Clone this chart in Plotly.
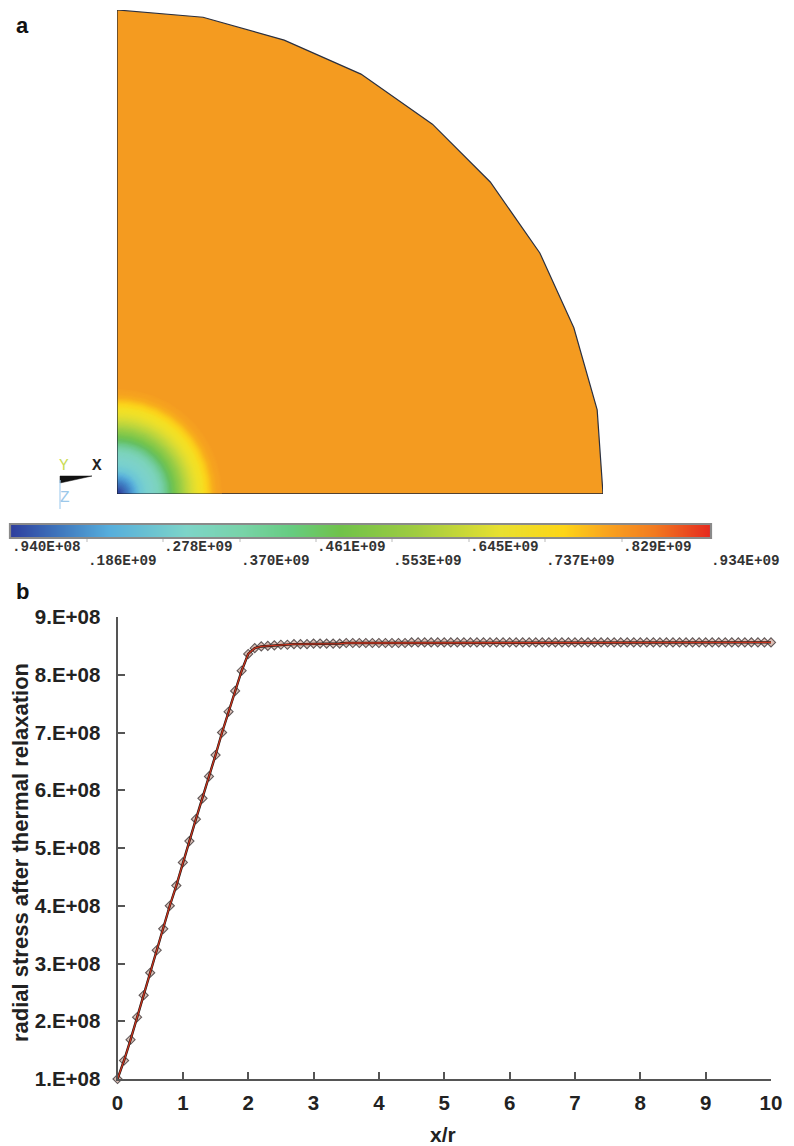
import numpy as np
import plotly.graph_objects as go

W, H = 794, 1146

# Panel a: model outline (x, y, radius = 10 units)
outline_x = [0.00, 1.77, 3.44, 5.02, 6.49, 7.68, 8.70, 9.40, 9.88, 10.0, 0.00]
outline_y = [9.96, 9.81, 9.34, 8.64, 7.61, 6.42, 4.96, 3.42, 1.73, 0.00, 0.00]

# Panel a: stress colour seen at each radius around the hole, outermost first
ring_radii = [2.16, 2.06, 1.98, 1.91, 1.85, 1.77, 1.69, 1.60, 1.52, 1.44, 1.36, 1.28,
              1.19, 1.11, 1.03, 0.95, 0.86, 0.74, 0.62, 0.49, 0.41, 0.33, 0.25, 0.16, 0.08]
ring_colors = ["#F59E20", "#F6A41F", "#F8B01C", "#FAC61A", "#FBD41B", "#F5DF22", "#EFE028",
               "#E2DE30", "#CFDA38", "#BAD53D", "#A2CF44", "#8CCA48", "#74C44E", "#66C063",
               "#6CC98A", "#76CFA8", "#7CD3BC", "#7DD2C8", "#78D0CE", "#6CC6D6", "#5CB4DA",
               "#4C9BD2", "#3F7FC3", "#3A63B2", "#2E46A0"]

# Colour bar
bar_levels = [0.0, 0.07, 0.14, 0.25, 0.33, 0.40, 0.47, 0.58, 0.70, 0.79, 0.85, 0.92, 1.0]
bar_colors = ["#2E3F9E", "#3F78BE", "#56AEDC", "#7DD4C8", "#78D3A8", "#66CC80", "#70C24A",
              "#A0CC40", "#E8E030", "#FDD516", "#F9A51E", "#F27A20", "#E5291F"]
bar_labels = [".940E+08", ".186E+09", ".278E+09", ".370E+09", ".461E+09",
              ".553E+09", ".645E+09", ".737E+09", ".829E+09", ".934E+09"]

# Panel b
x_over_r = [0.0, 0.1, 0.2, 0.3, 0.4, 0.5, 0.6, 0.7, 0.8, 0.9, 1.0, 1.1, 1.2, 1.3, 1.4, 1.5, 1.6,
            1.7, 1.8, 1.9, 2.0, 2.1, 2.2, 2.3, 2.4, 2.5, 2.6, 2.7, 2.8, 2.9, 3.0, 3.1, 3.2, 3.3,
            3.4, 3.5, 3.6, 3.7, 3.8, 3.9, 4.0, 4.1, 4.2, 4.3, 4.4, 4.5, 4.6, 4.7, 4.8, 4.9, 5.0,
            5.1, 5.2, 5.3, 5.4, 5.5, 5.6, 5.7, 5.8, 5.9, 6.0, 6.1, 6.2, 6.3, 6.4, 6.5, 6.6, 6.7,
            6.8, 6.9, 7.0, 7.1, 7.2, 7.3, 7.4, 7.5, 7.6, 7.7, 7.8, 7.9, 8.0, 8.1, 8.2, 8.3, 8.4,
            8.5, 8.6, 8.7, 8.8, 8.9, 9.0, 9.1, 9.2, 9.3, 9.4, 9.5, 9.6, 9.7, 9.8, 9.9, 10.0]
radial_stress = [1.00e8, 1.32e8, 1.68e8, 2.07e8, 2.45e8, 2.84e8, 3.23e8, 3.60e8, 4.00e8, 4.35e8,
                 4.75e8, 5.12e8, 5.50e8, 5.86e8, 6.24e8, 6.61e8, 7.00e8, 7.36e8, 7.72e8, 8.07e8,
                 8.36e8, 8.46e8, 8.49e8, 8.50e8, 8.51e8, 8.52e8, 8.52e8, 8.53e8, 8.53e8, 8.53e8,
                 8.54e8, 8.54e8, 8.54e8, 8.54e8, 8.54e8, 8.55e8, 8.55e8, 8.55e8, 8.55e8, 8.55e8,
                 8.55e8, 8.55e8, 8.55e8, 8.55e8, 8.55e8, 8.56e8, 8.56e8, 8.56e8, 8.56e8, 8.56e8,
                 8.56e8, 8.56e8, 8.56e8, 8.56e8, 8.56e8, 8.56e8, 8.56e8, 8.56e8, 8.56e8, 8.56e8,
                 8.56e8, 8.56e8, 8.56e8, 8.56e8, 8.56e8, 8.56e8, 8.56e8, 8.56e8, 8.56e8, 8.56e8,
                 8.56e8, 8.56e8, 8.56e8, 8.56e8, 8.56e8, 8.56e8, 8.56e8, 8.56e8, 8.56e8, 8.56e8,
                 8.56e8, 8.56e8, 8.56e8, 8.56e8, 8.56e8, 8.56e8, 8.56e8, 8.56e8, 8.56e8, 8.56e8,
                 8.56e8, 8.56e8, 8.56e8, 8.56e8, 8.56e8, 8.56e8, 8.56e8, 8.56e8, 8.56e8, 8.56e8,
                 8.56e8]
y_ticks = [1e8, 2e8, 3e8, 4e8, 5e8, 6e8, 7e8, 8e8, 9e8]
y_tick_labels = ["1.E+08", "2.E+08", "3.E+08", "4.E+08", "5.E+08", "6.E+08", "7.E+08", "8.E+08", "9.E+08"]
x_ticks = [0, 1, 2, 3, 4, 5, 6, 7, 8, 9, 10]


def px(v):
    return v / W


def py(v):
    return 1 - v / H


fig = go.Figure()

# --- panel a ---
fig.add_trace(go.Scatter(x=outline_x, y=outline_y, mode="lines", fill="toself", fillcolor="#F49B20",
                         line=dict(color="#2A3040", width=1.2), xaxis="x", yaxis="y", hoverinfo="skip"))
theta = np.linspace(0, np.pi / 2, 60)
# blend neighbouring colours so the painted gradient has no visible bands
rgb = np.array([[int(c[i:i + 2], 16) for i in (1, 3, 5)] for c in ring_colors], dtype=float)
radii_asc = np.array(ring_radii[::-1])
rgb_asc = rgb[::-1]
for r in np.arange(ring_radii[0], 0.0, -0.025):
    col = [float(np.interp(r, radii_asc, rgb_asc[:, k])) for k in range(3)]
    c = f"rgb({col[0]:.0f},{col[1]:.0f},{col[2]:.0f})"
    fig.add_trace(go.Scatter(x=np.r_[0, r * np.cos(theta), 0], y=np.r_[0, r * np.sin(theta), 0],
                             mode="lines", fill="toself", fillcolor=c, line=dict(width=0, color=c),
                             xaxis="x", yaxis="y", hoverinfo="skip"))
fig.add_trace(go.Scatter(x=[outline_x[0], 0, outline_x[9]], y=[outline_y[0], 0, 0], mode="lines",
                         line=dict(color="#1A2030", width=1.2), xaxis="x", yaxis="y", hoverinfo="skip"))

# --- colour bar ---
fig.add_trace(go.Heatmap(x=bar_levels, y=[0, 1], z=[bar_levels, bar_levels], zmin=0, zmax=1, zsmooth="best",
                         colorscale=[[l, c] for l, c in zip(bar_levels, bar_colors)], showscale=False,
                         xaxis="x2", yaxis="y2", hoverinfo="skip"))

# --- panel b ---
fig.add_trace(go.Scatter(x=x_over_r, y=radial_stress, mode="markers", cliponaxis=False,
                         marker=dict(symbol="diamond", size=7, color="#DDBFB6", line=dict(color="#605858", width=1.1)),
                         xaxis="x3", yaxis="y3", hoverinfo="skip"))
fig.add_trace(go.Scatter(x=x_over_r, y=radial_stress, mode="lines", cliponaxis=False,
                         line=dict(color="#1C1412", width=2.4), xaxis="x3", yaxis="y3", hoverinfo="skip"))
fig.add_trace(go.Scatter(x=x_over_r, y=radial_stress, mode="lines", cliponaxis=False,
                         line=dict(color="#C8341E", width=1.3), xaxis="x3", yaxis="y3", hoverinfo="skip"))

annotations = []


def text(x, y, s, size, color="#222222", family="Liberation Sans", bold=True, angle=0, xanchor="center"):
    annotations.append(dict(x=px(x), y=py(y), xref="paper", yref="paper", text=s, showarrow=False,
                            xanchor=xanchor, yanchor="middle", textangle=angle,
                            font=dict(size=size, color=color, family=family, weight=700 if bold else 400)))


text(22, 25, "a", 22, color="#111111")
text(22, 591, "b", 22, color="#111111")
text(20, 853, "radial stress after thermal relaxation", 22, angle=-90)
text(443, 1134, "x/r", 21)

# triad labels
text(64, 466, "Y", 16, color="#C9DC55", family="Liberation Mono", bold=False)
text(97, 466, "X", 16, color="#222222", family="Liberation Mono", bold=True)
text(65, 498, "Z", 16, color="#9CC8EA", family="Liberation Mono", bold=False)

# colour bar labels
label_left = [10, 86, 162, 239, 315, 391, 468, 544, 621, 709]
label_row = [547, 561, 547, 561, 547, 561, 547, 561, 547, 561]
for lx, ly, s in zip(label_left, label_row, bar_labels):
    text(lx, ly, s, 14.3, family="Liberation Mono", color="#333333", xanchor="left")

shapes = [
    dict(type="rect", xref="paper", yref="paper", x0=px(10), x1=px(711), y0=py(524), y1=py(538),
         line=dict(color="#8A8A8A", width=2.2)),
    dict(type="path", xref="paper", yref="paper",
         path=f"M {px(60)} {py(476)} L {px(92)} {py(476)} L {px(60)} {py(483)} Z",
         fillcolor="#111111", line=dict(color="#111111", width=0.5)),
    dict(type="line", xref="paper", yref="paper", x0=px(60), x1=px(60), y0=py(480), y1=py(509),
         line=dict(color="#A8D0F0", width=1.2)),
]
for tx in [87, 163, 240, 316, 392, 469, 545, 622]:
    shapes.append(dict(type="line", xref="paper", yref="paper", x0=px(tx), x1=px(tx), y0=py(539), y1=py(542),
                       line=dict(color="#BBBBBB", width=1)))

axis_font = dict(size=20.5, color="#222222", family="Liberation Sans", weight=700)
hidden = dict(visible=False, showgrid=False, zeroline=False, fixedrange=True)
fig.update_layout(
    width=W, height=H, autosize=False, margin=dict(l=0, r=0, t=0, b=0, autoexpand=False),
    paper_bgcolor="white", plot_bgcolor="white", showlegend=False,
    annotations=annotations, shapes=shapes,
    xaxis=dict(domain=[px(117), px(603)], range=[0, 10], **hidden),
    yaxis=dict(domain=[py(494), py(10)], range=[0, 9.959], **hidden),
    xaxis2=dict(domain=[px(11), px(710)], range=[0, 1], anchor="y2", **hidden),
    yaxis2=dict(domain=[py(538), py(524)], range=[0, 1], anchor="x2", **hidden),
    xaxis3=dict(domain=[px(117.5), px(771)], range=[0, 10], anchor="y3", tickvals=x_ticks,
                ticks="inside", ticklen=7, tickwidth=1.5, tickcolor="#555555", showline=True,
                linecolor="#555555", linewidth=2, showgrid=False, zeroline=False, tickfont=axis_font,
                ticklabelstandoff=4),
    yaxis3=dict(domain=[py(1079), py(617)], range=[1e8, 9e8], anchor="x3", tickvals=y_ticks,
                ticktext=y_tick_labels, ticks="inside", ticklen=7, tickwidth=1.5, tickcolor="#555555",
                showline=True, linecolor="#555555", linewidth=2, showgrid=False, zeroline=False,
                tickfont=axis_font, ticklabelstandoff=11),
)

fig.write_html("out.html", config={"displayModeBar": False},
               post_script="document.body.style.margin='0';document.documentElement.style.overflow='hidden';")
